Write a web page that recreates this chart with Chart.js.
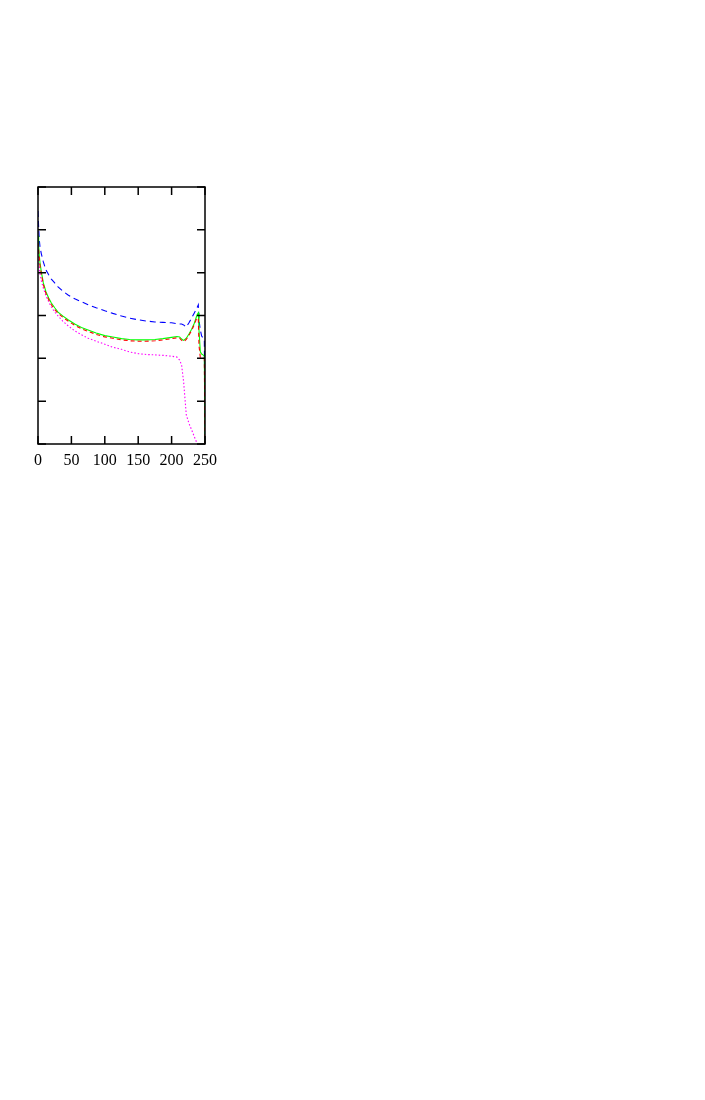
<!DOCTYPE html>
<html>
<head>
<meta charset="utf-8">
<script src="https://cdn.jsdelivr.net/npm/chart.js@4/dist/chart.umd.min.js"></script>
<style>
  html, body { margin: 0; padding: 0; background: #fff; }
  #wrap { position: absolute; left: 0; top: 0; width: 705px; height: 1100px; }
</style>
</head>
<body>
<div id="wrap"><canvas id="plot" width="705" height="1100"></canvas></div>
<script>
// x positions shared by all curves
const xs = [0, 1, 2, 3, 5, 8, 12, 16, 20, 25, 30, 37, 45, 55, 65, 75, 87, 100, 112, 125,
  137, 150, 162, 175, 187, 200, 208, 212, 215, 218, 222, 226, 230, 234, 238, 240, 241,
  243, 245, 247, 249, 250];

const redDashed = [4.70, 4.52, 4.32, 4.17, 3.97, 3.72, 3.51, 3.37, 3.25, 3.14, 3.05, 2.96,
  2.87, 2.77, 2.69, 2.63, 2.56, 2.50, 2.47, 2.43, 2.41, 2.40, 2.40, 2.41, 2.43, 2.46, 2.48,
  2.47, 2.42, 2.39, 2.44, 2.54, 2.65, 2.79, 2.95, 2.92, 2.30, 2.02, 2.01, 2.01, 2.00, 0];

const greenSolid = [4.86, 4.62, 4.39, 4.23, 4.02, 3.76, 3.55, 3.41, 3.29, 3.18, 3.08, 2.99,
  2.90, 2.80, 2.72, 2.66, 2.59, 2.53, 2.50, 2.46, 2.44, 2.43, 2.43, 2.44, 2.46, 2.49, 2.51,
  2.50, 2.45, 2.42, 2.47, 2.57, 2.68, 2.82, 3.01, 3.06, 2.66, 2.15, 2.10, 2.08, 2.05, 0];

const blueDashed = [5.44, 5.04, 4.76, 4.60, 4.44, 4.25, 4.06, 3.95, 3.85, 3.76, 3.67, 3.57,
  3.48, 3.39, 3.32, 3.25, 3.18, 3.11, 3.05, 2.99, 2.94, 2.90, 2.87, 2.85, 2.84, 2.83, 2.81,
  2.80, 2.80, 2.78, 2.73, 2.83, 2.94, 3.06, 3.18, 3.25, 2.90, 2.66, 2.52, 2.48, 2.43, 0];

const magentaDotted = [4.55, 4.34, 4.11, 3.97, 3.81, 3.64, 3.46, 3.32, 3.20, 3.08, 2.99, 2.87,
  2.76, 2.64, 2.55, 2.47, 2.40, 2.33, 2.26, 2.21, 2.15, 2.11, 2.09, 2.08, 2.07, 2.05, 2.03,
  1.96, 1.84, 1.45, 0.68, 0.48, 0.33, 0.17, 0.02, null, null, null, null, null, null, null];

const xTicks = [0, 50, 100, 150, 200, 250];
const yTicks = [0, 1, 2, 3, 4, 5, 6];

function pts(vals) {
  return xs.map((x, i) => ({ x: x, y: vals[i] }));
}

// frame with inward ticks on all four sides, like the original plot
const framePlugin = {
  id: 'frame',
  afterDatasetsDraw(chart) {
    const ctx = chart.ctx;
    const a = chart.chartArea;
    const sx = chart.scales.x;
    const sy = chart.scales.y;
    const len = 8;
    ctx.save();
    ctx.strokeStyle = '#000';
    ctx.lineWidth = 1.5;
    ctx.strokeRect(a.left, a.top, a.right - a.left, a.bottom - a.top);
    ctx.beginPath();
    xTicks.forEach(v => {
      const px = sx.getPixelForValue(v);
      ctx.moveTo(px, a.bottom); ctx.lineTo(px, a.bottom - len);
      ctx.moveTo(px, a.top); ctx.lineTo(px, a.top + len);
    });
    yTicks.forEach(v => {
      const py = sy.getPixelForValue(v);
      ctx.moveTo(a.left, py); ctx.lineTo(a.left + len, py);
      ctx.moveTo(a.right, py); ctx.lineTo(a.right - len, py);
    });
    ctx.stroke();
    ctx.restore();
  }
};

const ctx = document.getElementById('plot').getContext('2d');
new Chart(ctx, {
  type: 'line',
  data: {
    datasets: [
      { label: 'red', data: pts(redDashed), borderColor: '#ff0000', borderDash: [4, 3] },
      { label: 'green', data: pts(greenSolid), borderColor: '#00ff00' },
      { label: 'blue', data: pts(blueDashed), borderColor: '#0000ff', borderDash: [6, 4] },
      { label: 'magenta', data: pts(magentaDotted), borderColor: '#ff00ff', borderDash: [1.5, 2] }
    ]
  },
  options: {
    responsive: false,
    animation: false,
    layout: { padding: { left: 38, top: 187, right: 500, bottom: 626 } },
    elements: {
      point: { radius: 0 },
      line: { borderWidth: 1.1, tension: 0 }
    },
    plugins: { legend: { display: false }, tooltip: { enabled: false } },
    scales: {
      x: {
        type: 'linear',
        min: 0,
        max: 250,
        afterFit(scale) { scale.height = 30; },
        afterBuildTicks(scale) { scale.ticks = xTicks.map(v => ({ value: v })); },
        grid: { display: false },
        border: { display: false },
        ticks: {
          padding: -1,
          color: '#000',
          font: { family: 'Liberation Serif', size: 16 }
        }
      },
      y: {
        min: 0,
        max: 6,
        afterFit(scale) { scale.width = 0; },
        afterBuildTicks(scale) { scale.ticks = yTicks.map(v => ({ value: v })); },
        grid: { display: false },
        border: { display: false },
        ticks: { display: false }
      }
    }
  },
  plugins: [framePlugin]
});
</script>
</body>
</html>
